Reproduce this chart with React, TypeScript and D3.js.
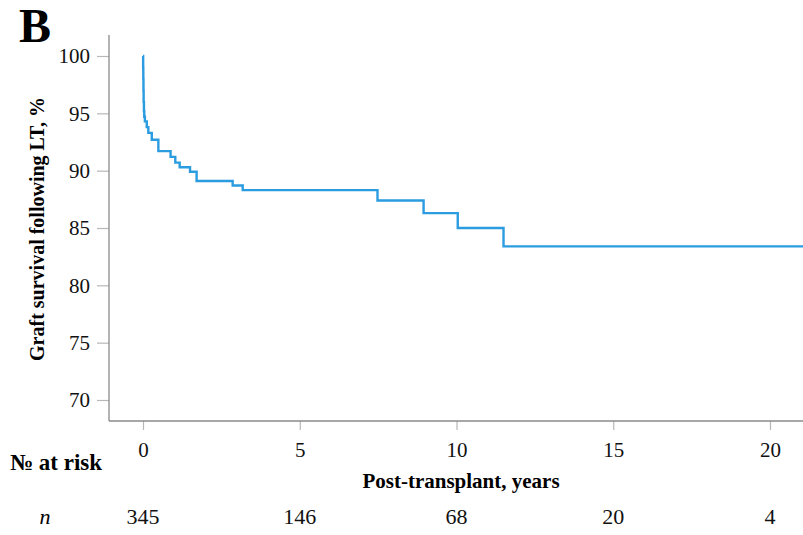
import React, { useEffect, useRef } from 'react';
import * as d3 from 'd3';

// Kaplan-Meier steps (years, % surviving graft)
const kmTime = [0, 0.005, 0.01, 0.015, 0.02, 0.03, 0.04, 0.06, 0.12, 0.17, 0.28, 0.49, 0.88, 1.03, 1.17, 1.5, 1.71, 2.86, 3.18, 7.48, 8.95, 10.04, 11.5, 21.5];
const kmSurv = [100, 99, 98, 97, 96, 95.2, 94.7, 94.3, 93.8, 93.3, 92.7, 91.7, 91.2, 90.7, 90.3, 89.9, 89.1, 88.7, 88.3, 87.4, 86.3, 85.0, 83.4, 83.4];

const xTicks = [0, 5, 10, 15, 20];
const yTicks = [70, 75, 80, 85, 90, 95, 100];
const atRisk = [345, 146, 68, 20, 4];

const W = 803, H = 535;
const serif = '"Times New Roman", "Liberation Serif", serif';

export default function App() {
  const ref = useRef<SVGSVGElement>(null);

  useEffect(() => {
    const svg = d3.select(ref.current);
    svg.selectAll('*').remove();

    const x = d3.scaleLinear().domain([0, 20]).range([143, 770]);
    const y = d3.scaleLinear().domain([70, 100]).range([400, 56]);
    const axisX = 109, axisY = 421;

    // panel letter
    svg.append('text').attr('x', 19).attr('y', 42)
      .attr('font-family', serif).attr('font-weight', 'bold').attr('font-size', 48)
      .text('B');

    // y axis
    const gy = svg.append('g').attr('transform', `translate(${axisX},0)`)
      .call(d3.axisLeft(y).tickValues(yTicks).tickSize(12).tickPadding(7).tickFormat(d3.format('d')));
    gy.select('.domain').remove();
    gy.selectAll('.tick line').attr('stroke', '#b8b8b8').attr('stroke-width', 1.2);
    gy.selectAll('.tick text').attr('font-family', serif).attr('font-size', 21).attr('fill', '#111');
    svg.append('line').attr('x1', axisX).attr('x2', axisX).attr('y1', 35).attr('y2', axisY)
      .attr('stroke', '#8a8a8a').attr('stroke-width', 1.3);

    // x axis
    const gx = svg.append('g').attr('transform', `translate(0,${axisY})`)
      .call(d3.axisBottom(x).tickValues(xTicks).tickSize(9).tickPadding(12).tickFormat(d3.format('d')));
    gx.select('.domain').remove();
    gx.selectAll('.tick line').attr('stroke', '#b8b8b8').attr('stroke-width', 1.2);
    gx.selectAll('.tick text').attr('font-family', serif).attr('font-size', 21).attr('fill', '#111');
    svg.append('line').attr('x1', axisX).attr('x2', W).attr('y1', axisY).attr('y2', axisY)
      .attr('stroke', '#8a8a8a').attr('stroke-width', 1.3);

    // survival curve
    const pts = kmTime.map((t, i) => [t, kmSurv[i]] as [number, number]);
    const line = d3.line<[number, number]>()
      .x(d => x(d[0])).y(d => y(d[1]))
      .curve(d3.curveStepAfter);
    svg.append('path').datum(pts).attr('d', line)
      .attr('fill', 'none').attr('stroke', '#2b9ce0').attr('stroke-width', 2.4);

    // axis titles
    svg.append('text')
      .attr('transform', `translate(44,229) rotate(-90)`)
      .attr('text-anchor', 'middle')
      .attr('font-family', serif).attr('font-weight', 'bold').attr('font-size', 20)
      .text('Graft survival following LT, %');
    svg.append('text').attr('x', 461).attr('y', 488).attr('text-anchor', 'middle')
      .attr('font-family', serif).attr('font-weight', 'bold').attr('font-size', 21)
      .text('Post-transplant, years');

    // number at risk
    svg.append('text').attr('x', 10).attr('y', 470)
      .attr('font-family', serif).attr('font-weight', 'bold').attr('font-size', 23)
      .text('№ at risk');
    svg.append('text').attr('x', 45).attr('y', 524).attr('text-anchor', 'middle')
      .attr('font-family', serif).attr('font-style', 'italic').attr('font-size', 22)
      .text('n');
    svg.append('g').selectAll('text').data(atRisk).join('text')
      .attr('x', (d, i) => x(xTicks[i]))
      .attr('y', 524).attr('text-anchor', 'middle')
      .attr('font-family', serif).attr('font-size', 22).attr('fill', '#111')
      .text(d => d);
  }, []);

  return (
    <svg ref={ref} width={W} height={H}
      style={{ position: 'absolute', left: 0, top: 0, background: '#fff' }} />
  );
}
